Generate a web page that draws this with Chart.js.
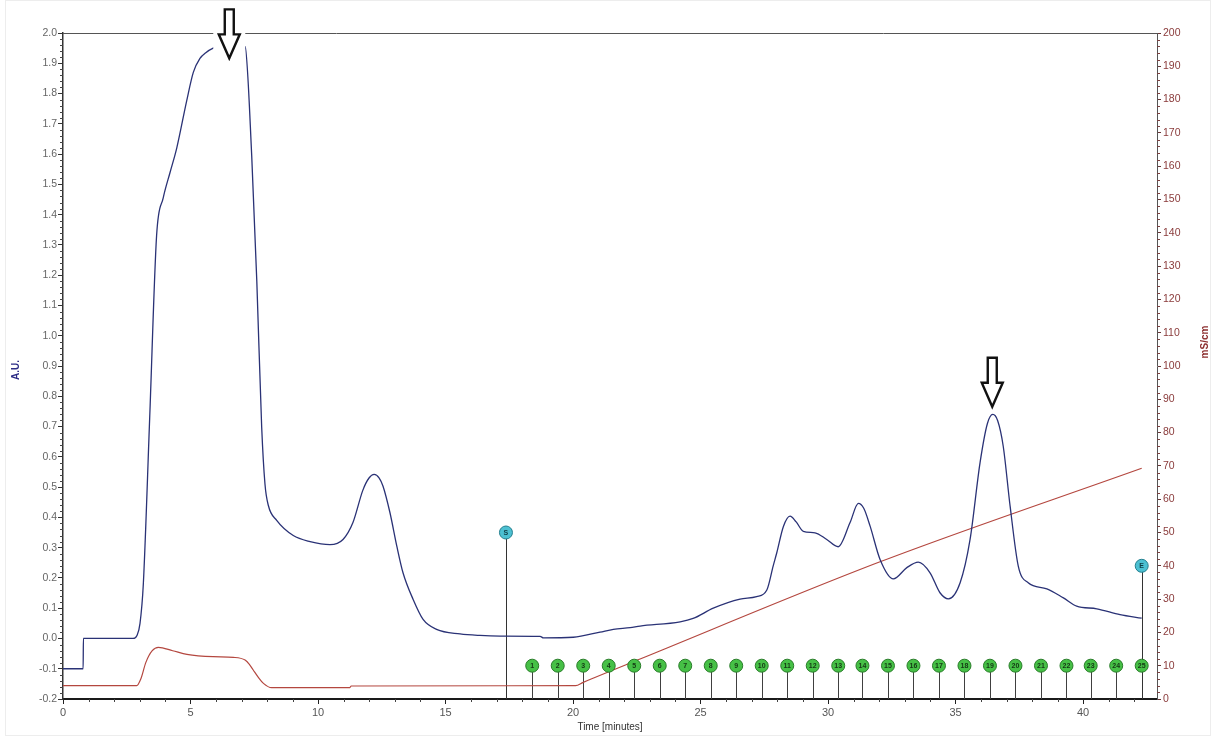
<!DOCTYPE html>
<html>
<head>
<meta charset="utf-8">
<script src="https://cdn.jsdelivr.net/npm/chart.js@4.4.1/dist/chart.umd.min.js"></script>
<style>
  html, body { margin: 0; padding: 0; background: #fff; }
  #wrap { width: 1215px; height: 736px; }
</style>
</head>
<body>
<div id="wrap"><canvas id="c" width="1215" height="736"></canvas></div>
<script>
// UV absorbance trace (A.U.) against elution time (minutes)
const uvTime = [0, 0.79, 0.80, 2.75, 2.90, 3.02, 3.15, 3.40, 3.67, 3.93,
  4.20, 4.46, 4.85, 5.11, 5.37, 5.60, 5.89, 6.30, 6.80, 7.14,
  7.40, 7.60, 7.79, 7.92, 8.05, 8.38, 9.03, 9.69, 10.47, 10.98,
  11.37, 11.76, 12.00, 12.20, 12.40, 12.55, 12.82, 13.09, 13.33, 13.73,
  14.12, 14.65, 15.57, 16.35, 17.14, 18.71, 18.84, 20.01, 21.06, 21.58,
  22.24, 22.63, 24.20, 24.71, 25.50, 26.55, 27.20, 27.60, 27.85, 27.99,
  28.25, 28.51, 28.75, 29.03, 29.49, 29.95, 30.40, 30.86, 31.19, 31.40,
  31.65, 32.04, 32.56, 33.09, 33.54, 34.00, 34.39, 34.72, 35.18, 35.57,
  35.96, 36.25, 36.46, 36.65, 36.87, 37.14, 37.46, 37.85, 38.58, 39.23,
  39.75, 40.54, 41.45, 42.30];
const uvAbs = [-0.10, -0.10, 0.00, 0.00, 0.01, 0.05, 0.18, 0.73, 1.33, 1.455,
  1.54, 1.62, 1.776, 1.87, 1.916, 1.935, 1.95, 1.96, 1.965, 1.955,
  1.595, 1.18, 0.70, 0.51, 0.44, 0.39, 0.34, 0.32, 0.31, 0.327,
  0.383, 0.49, 0.53, 0.542, 0.53, 0.503, 0.416, 0.305, 0.218, 0.129,
  0.063, 0.03, 0.015, 0.01, 0.008, 0.007, 0.002, 0.004, 0.021, 0.03,
  0.036, 0.041, 0.055, 0.066, 0.10, 0.13, 0.138, 0.16, 0.24, 0.283,
  0.37, 0.404, 0.385, 0.354, 0.349, 0.327, 0.303, 0.382, 0.446, 0.43,
  0.371, 0.261, 0.197, 0.234, 0.252, 0.217, 0.151, 0.131, 0.184, 0.327,
  0.58, 0.71, 0.74, 0.72, 0.635, 0.437, 0.239, 0.184, 0.164, 0.134,
  0.107, 0.098, 0.079, 0.067];

// Conductivity trace (mS/cm)
const condTime = [0, 2.89, 3.05, 3.25, 3.50, 3.74, 4.30, 4.86, 5.89, 6.68,
  7.14, 7.30, 7.46, 7.66, 7.86, 8.18, 11.25, 11.30, 20.10, 20.40,
  22.63, 32.04, 42.30];
const condMs = [4.0, 4.0, 6.0, 11.0, 14.5, 15.5, 14.5, 13.4, 12.7, 12.5,
  11.7, 10.5, 8.7, 6.5, 4.7, 3.4, 3.4, 3.9, 4.0, 5.0,
  12.0, 41.2, 69.3];

// Fraction collector marks
const fractionTime = [18.40, 19.40, 20.40, 21.40, 22.40, 23.40, 24.40, 25.40, 26.40, 27.40,
  28.40, 29.40, 30.40, 31.35, 32.35, 33.35, 34.35, 35.35, 36.35, 37.35,
  38.35, 39.35, 40.30, 41.30, 42.30];
const fractionLabel = ['1','2','3','4','5','6','7','8','9','10','11','12','13',
  '14','15','16','17','18','19','20','21','22','23','24','25'];
const fractionLevel = 10;

// Start / end of collection events
const eventTime = [17.37, 42.30];
const eventLevel = [50, 40];
const eventLabel = ['S', 'E'];

// Peak pointers
const arrowTime = [6.52, 36.44];
const arrowLevel = [1.913, 0.762];

// Axis ranges
const timeRange = [0, 42.9];
const auRange = [-0.2, 2.0];
const condRange = [0, 200];

const FONT = "'Liberation Sans', Arial, sans-serif";

const zip = (xs, ys) => xs.map((x, i) => ({ x, y: ys[i] }));

const chromPlugin = {
  id: 'chrom',
  beforeDraw(chart) {
    const ctx = chart.ctx;
    ctx.save();
    ctx.fillStyle = '#fff';
    ctx.fillRect(0, 0, chart.width, chart.height);
    ctx.strokeStyle = '#ededed';
    ctx.lineWidth = 1;
    ctx.strokeRect(5.5, 0.5, 1205, 735);
    ctx.restore();
  },
  beforeDatasetsDraw(chart) {
    const { ctx, chartArea: a, scales } = chart;
    ctx.save();
    // upper frame line
    ctx.strokeStyle = '#555';
    ctx.lineWidth = 1;
    ctx.beginPath();
    ctx.moveTo(a.left, a.top + 0.5);
    ctx.lineTo(a.right, a.top + 0.5);
    ctx.stroke();

    // minor ticks
    ctx.strokeStyle = '#444';
    ctx.beginPath();
    for (let i = -10; i <= 100; i++) {
      if (i % 5 === 0) continue;
      const y = Math.round(scales.y.getPixelForValue(i * 0.02)) + 0.5;
      ctx.moveTo(a.left - 3, y); ctx.lineTo(a.left, y);
    }
    for (let i = 1; i <= 42; i++) {
      if (i % 5 === 0) continue;
      const x = Math.round(scales.x.getPixelForValue(i)) + 0.5;
      ctx.moveTo(x, a.bottom); ctx.lineTo(x, a.bottom + 3);
    }
    ctx.stroke();
    ctx.strokeStyle = '#7a4040';
    ctx.beginPath();
    for (let v = 2; v < 200; v += 2) {
      if (v % 10 === 0) continue;
      const y = Math.round(scales.y2.getPixelForValue(v)) + 0.5;
      ctx.moveTo(a.right, y); ctx.lineTo(a.right + 3, y);
    }
    ctx.stroke();

    // stems of the collection marks
    chart.data.datasets.forEach((ds, i) => {
      if (!ds.stem) return;
      const meta = chart.getDatasetMeta(i);
      ctx.strokeStyle = ds.stemColor;
      ctx.lineWidth = 1;
      ctx.beginPath();
      meta.data.forEach(el => {
        const x = Math.round(el.x) + 0.5;
        ctx.moveTo(x, el.y);
        ctx.lineTo(x, a.bottom);
      });
      ctx.stroke();
    });
    ctx.restore();
  },
  afterDatasetsDraw(chart) {
    const { ctx, chartArea: a, scales } = chart;
    ctx.save();
    // labels inside the collection marks
    chart.data.datasets.forEach((ds, i) => {
      if (!ds.markLabels) return;
      const meta = chart.getDatasetMeta(i);
      ctx.fillStyle = ds.labelColor;
      ctx.font = 'bold 7px ' + FONT;
      ctx.textAlign = 'center';
      ctx.textBaseline = 'middle';
      meta.data.forEach((el, j) => ctx.fillText(ds.markLabels[j], el.x, el.y + 0.5));
    });

    // hollow arrows pointing at the peaks
    arrowTime.forEach((t, i) => {
      const x = scales.x.getPixelForValue(t);
      const y = scales.y.getPixelForValue(arrowLevel[i]);
      ctx.fillStyle = '#fff';
      ctx.fillRect(x - 16, y - 56, 32, 57);
      ctx.beginPath();
      ctx.moveTo(x - 4.5, y - 50);
      ctx.lineTo(x + 4.5, y - 50);
      ctx.lineTo(x + 4.5, y - 25);
      ctx.lineTo(x + 10.5, y - 25);
      ctx.lineTo(x, y - 1);
      ctx.lineTo(x - 10.5, y - 25);
      ctx.lineTo(x - 4.5, y - 25);
      ctx.closePath();
      ctx.fillStyle = '#fff';
      ctx.fill();
      ctx.strokeStyle = '#111';
      ctx.lineWidth = 2.4;
      ctx.lineJoin = 'miter';
      ctx.stroke();
    });

    // vertical axis titles
    const mid = (a.top + a.bottom) / 2;
    ctx.font = 'bold 10px ' + FONT;
    ctx.textAlign = 'center';
    ctx.textBaseline = 'middle';
    ctx.save();
    ctx.translate(16, mid + 4);
    ctx.rotate(-Math.PI / 2);
    ctx.fillStyle = '#2c2c86';
    ctx.fillText('A.U.', 0, 0);
    ctx.restore();
    ctx.save();
    ctx.translate(1205, mid - 24);
    ctx.rotate(-Math.PI / 2);
    ctx.fillStyle = '#8c2e2e';
    ctx.fillText('mS/cm', 0, 0);
    ctx.restore();
    ctx.restore();
  }
};

new Chart(document.getElementById('c'), {
  type: 'scatter',
  data: {
    datasets: [
      {
        label: 'Fractions',
        data: fractionTime.map(t => ({ x: t, y: fractionLevel })),
        yAxisID: 'y2',
        pointRadius: 6.5,
        pointBackgroundColor: '#46c046',
        pointBorderColor: '#2a7d2a',
        pointBorderWidth: 1,
        stem: true,
        stemColor: '#404040',
        markLabels: fractionLabel,
        labelColor: '#143814',
        order: 0
      },
      {
        label: 'Events',
        data: zip(eventTime, eventLevel),
        yAxisID: 'y2',
        pointRadius: 6.5,
        pointBackgroundColor: '#4cc0d2',
        pointBorderColor: '#24808f',
        pointBorderWidth: 1,
        stem: true,
        stemColor: '#333',
        markLabels: eventLabel,
        labelColor: '#0f3d45',
        order: 0
      },
      {
        label: 'UV',
        data: zip(uvTime, uvAbs),
        yAxisID: 'y',
        showLine: true,
        borderColor: '#2a3276',
        borderWidth: 1.3,
        pointRadius: 0,
        cubicInterpolationMode: 'monotone',
        order: 1
      },
      {
        label: 'Cond',
        data: zip(condTime, condMs),
        yAxisID: 'y2',
        showLine: true,
        borderColor: '#b4473f',
        borderWidth: 1.2,
        pointRadius: 0,
        cubicInterpolationMode: 'monotone',
        order: 2
      }
    ]
  },
  options: {
    responsive: false,
    animation: false,
    devicePixelRatio: 1,
    layout: { padding: { top: 33, left: 0, right: 0, bottom: 0 } },
    plugins: { legend: { display: false }, tooltip: { enabled: false } },
    scales: {
      x: {
        type: 'linear',
        min: timeRange[0],
        max: timeRange[1],
        ticks: {
          stepSize: 5,
          includeBounds: false,
          color: '#555',
          font: { family: FONT, size: 11 },
          padding: 2,
          maxRotation: 0,
          callback: v => String(v)
        },
        grid: { drawOnChartArea: false, drawTicks: true, tickLength: 5, color: '#222' },
        border: { display: true, color: '#1a1a1a', width: 2 },
        title: {
          display: true,
          text: 'Time [minutes]',
          color: '#333',
          font: { family: FONT, size: 10 },
          padding: { top: 0, bottom: 3 }
        },
        afterFit: s => { s.height = 37; }
      },
      y: {
        type: 'linear',
        position: 'left',
        min: auRange[0],
        max: auRange[1],
        ticks: {
          stepSize: 0.1,
          color: '#666',
          font: { family: FONT, size: 10.5 },
          padding: 1,
          callback: v => (Math.abs(v) < 1e-9 ? 0 : v).toFixed(1)
        },
        grid: { drawOnChartArea: false, drawTicks: true, tickLength: 5, color: '#333' },
        border: { display: true, color: '#333', width: 1.5 },
        afterFit: s => { s.width = 63; }
      },
      y2: {
        type: 'linear',
        position: 'right',
        min: condRange[0],
        max: condRange[1],
        ticks: {
          stepSize: 10,
          color: '#8a3b3b',
          font: { family: FONT, size: 10.5 },
          padding: 2,
          callback: v => String(Math.round(v))
        },
        grid: { drawOnChartArea: false, drawTicks: true, tickLength: 4, color: '#6a3535' },
        border: { display: true, color: '#555', width: 1 },
        afterFit: s => { s.width = 58; }
      }
    }
  },
  plugins: [chromPlugin]
});
</script>
</body>
</html>
